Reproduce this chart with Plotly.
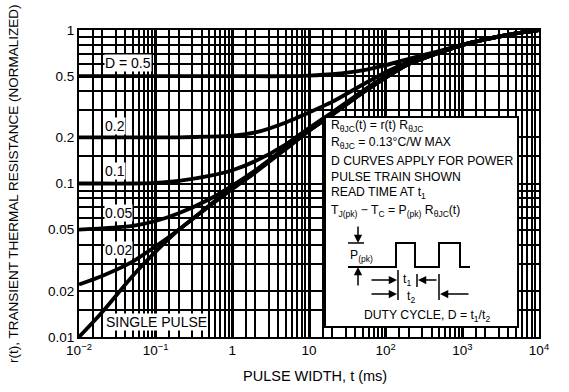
import plotly.graph_objects as go

# ---------------- data ----------------
pulse_width_ms = [0.01, 0.02, 0.05, 0.1, 0.2, 0.5, 1, 2, 5, 10, 20, 50, 100, 200, 500, 1000, 2000, 5000, 10000]

r_d05 = [0.50, 0.50, 0.50, 0.50, 0.50, 0.50, 0.50, 0.50, 0.50, 0.505, 0.515, 0.545, 0.59, 0.65, 0.73, 0.80, 0.87, 0.95, 1.0]
r_d02 = [0.20, 0.20, 0.20, 0.20, 0.20, 0.202, 0.205, 0.215, 0.25, 0.29, 0.34, 0.44, 0.53, 0.62, 0.72, 0.80, 0.87, 0.95, 1.0]
r_d01 = [0.10, 0.10, 0.10, 0.101, 0.104, 0.112, 0.122, 0.14, 0.18, 0.23, 0.29, 0.40, 0.50, 0.60, 0.715, 0.80, 0.87, 0.95, 1.0]
r_d005 = [0.050, 0.051, 0.053, 0.057, 0.064, 0.079, 0.097, 0.122, 0.172, 0.222, 0.282, 0.39, 0.49, 0.60, 0.71, 0.80, 0.87, 0.95, 1.0]
r_d002 = [0.022, 0.025, 0.031, 0.039, 0.050, 0.072, 0.094, 0.12, 0.17, 0.221, 0.28, 0.39, 0.49, 0.60, 0.71, 0.80, 0.87, 0.95, 1.0]
r_single = [0.010, 0.0145, 0.025, 0.036, 0.050, 0.071, 0.092, 0.118, 0.168, 0.22, 0.28, 0.39, 0.49, 0.60, 0.71, 0.80, 0.87, 0.95, 1.0]

series = [
    ("D = 0.5", r_d05),
    ("0.2", r_d02),
    ("0.1", r_d01),
    ("0.05", r_d005),
    ("0.02", r_d002),
    ("SINGLE PULSE", r_single),
]

x_tick_vals = [0.01, 0.1, 1, 10, 100, 1000, 10000]
x_tick_text = ["10<sup>−2</sup>", "10<sup>−1</sup>", "1", "10", "10<sup>2</sup>", "10<sup>3</sup>", "10<sup>4</sup>"]
y_tick_vals = [0.01, 0.02, 0.05, 0.1, 0.2, 0.5, 1]
y_tick_text = ["0.01", "0.02", "0.05", "0.1", "0.2", "0.5", "1"]

grid_mults = [1.5, 2, 3, 4, 5, 6, 7, 8, 9]
x_minor = [m * 10 ** d for d in range(-2, 4) for m in grid_mults]
y_minor = [m * 10 ** d for d in range(-2, 0) for m in grid_mults if (m * 10 ** d) not in y_tick_vals]

# ---------------- layout geometry ----------------
W, H = 569, 392
L, R, T, B = 79, 539, 30, 337
FONT = "Liberation Sans, Arial, Helvetica, sans-serif"


def PX(x):
    return (x - L) / (R - L)


def PY(y):
    return (B - y) / (B - T)


fig = go.Figure()
for name, vals in series:
    fig.add_trace(go.Scatter(x=pulse_width_ms, y=vals, mode="lines", name=name,
                             line=dict(color="black", width=3.8, shape="spline", smoothing=0.6),
                             showlegend=False, hoverinfo="skip"))

annotations = []
shapes = []

# curve labels
curve_labels = [
    ("D = 0.5", 104, 63),
    ("0.2", 104, 126),
    ("0.1", 104, 171),
    ("0.05", 104, 213),
    ("0.02", 104, 250),
    ("SINGLE PULSE", 105, 322),
]
for txt, x, y in curve_labels:
    annotations.append(dict(text=txt, x=PX(x), y=PY(y), xref="paper", yref="paper",
                            xanchor="left", yanchor="middle", showarrow=False,
                            bgcolor="white", borderpad=0,
                            font=dict(family=FONT, size=14, color="black")))

# inset box
shapes.append(dict(type="rect", xref="paper", yref="paper",
                   x0=PX(325), x1=PX(518), y0=PY(327), y1=PY(117),
                   fillcolor="white", line=dict(color="black", width=2), layer="above"))

box_lines = [
    ("R<sub>θJC</sub>(t) = r(t) R<sub>θJC</sub>", 126),
    ("R<sub>θJC</sub> = 0.13°C/W MAX", 143),
    ("D CURVES APPLY FOR POWER", 161),
    ("PULSE TRAIN SHOWN", 177),
    ("READ TIME AT t<sub>1</sub>", 193),
    ("T<sub>J(pk)</sub> − T<sub>C</sub> = P<sub>(pk)</sub> R<sub>θJC</sub>(t)", 211),
]
for txt, y in box_lines:
    annotations.append(dict(text=txt, x=PX(329), y=PY(y), xref="paper", yref="paper",
                            xanchor="left", yanchor="middle", showarrow=False,
                            font=dict(family=FONT, size=12.2, color="black")))

annotations.append(dict(text="DUTY CYCLE, D = t<sub>1</sub>/t<sub>2</sub>", x=PX(427), y=PY(316),
                        xref="paper", yref="paper", xanchor="center", yanchor="middle",
                        showarrow=False, font=dict(family=FONT, size=12.2, color="black")))
annotations.append(dict(text="P<sub>(pk)</sub>", x=PX(361), y=PY(256), xref="paper", yref="paper",
                        xanchor="center", yanchor="middle", showarrow=False,
                        font=dict(family=FONT, size=12.2, color="black")))
annotations.append(dict(text="t<sub>1</sub>", x=PX(407), y=PY(280), xref="paper", yref="paper",
                        xanchor="center", yanchor="middle", showarrow=False,
                        font=dict(family=FONT, size=12.2, color="black")))
annotations.append(dict(text="t<sub>2</sub>", x=PX(411), y=PY(297), xref="paper", yref="paper",
                        xanchor="center", yanchor="middle", showarrow=False,
                        font=dict(family=FONT, size=12.2, color="black")))

# pulse train
pts = [(348, 267), (396, 267), (396, 243), (415, 243), (415, 267), (439, 267), (439, 243),
       (460, 243), (460, 267), (470, 267)]
path = "M " + " L ".join(f"{PX(x):.5f},{PY(y):.5f}" for x, y in pts)
shapes.append(dict(type="path", path=path, xref="paper", yref="paper",
                   line=dict(color="black", width=2), layer="above"))
seg = [((348, 243), (364, 243)), ((398, 270), (398, 300)), ((417, 274), (417, 287)),
       ((439, 274), (439, 300))]
for (x0, y0), (x1, y1) in seg:
    shapes.append(dict(type="line", xref="paper", yref="paper", x0=PX(x0), y0=PY(y0),
                       x1=PX(x1), y1=PY(y1), line=dict(color="black", width=1.5), layer="above"))

arrows = [
    (358, 243, 0, -18),
    (358, 267, 0, 20),
    (397, 280, -27, 0),
    (418, 280, 20, 0),
    (397, 294, -27, 0),
    (440, 294, 30, 0),
]
for x, y, ax, ay in arrows:
    annotations.append(dict(text="", x=PX(x), y=PY(y), xref="paper", yref="paper",
                            ax=ax, ay=ay, showarrow=True, arrowhead=2, arrowsize=1.1,
                            arrowwidth=1.5, arrowcolor="black"))

# axis titles
annotations.append(dict(text="r(t), TRANSIENT THERMAL RESISTANCE (NORMALIZED)", x=PX(13), y=PY(184),
                        xref="paper", yref="paper", textangle=-90, showarrow=False,
                        xanchor="center", yanchor="middle",
                        font=dict(family=FONT, size=13.5, color="black")))
annotations.append(dict(text="PULSE WIDTH, t (ms)", x=PX(315), y=PY(376),
                        xref="paper", yref="paper", showarrow=False,
                        xanchor="center", yanchor="middle",
                        font=dict(family=FONT, size=14.5, color="black")))

axis_common = dict(showline=True, linecolor="black", linewidth=2, mirror=True,
                   ticks="", showgrid=True, gridcolor="black", zeroline=False,
                   tickfont=dict(family=FONT, size=13.5, color="black"))

fig.update_layout(
    width=W, height=H,
    margin=dict(l=L, r=W - R, t=T, b=H - B),
    paper_bgcolor="white", plot_bgcolor="white",
    xaxis=dict(type="log", range=[-2, 4], tickmode="array", tickvals=x_tick_vals,
               ticktext=x_tick_text, gridwidth=2.5,
               minor=dict(tickmode="array", tickvals=x_minor, showgrid=True,
                          gridcolor="black", gridwidth=1.7, ticks=""),
               **axis_common),
    yaxis=dict(type="log", range=[-2, 0], tickmode="array", tickvals=y_tick_vals,
               ticktext=y_tick_text, gridwidth=2,
               minor=dict(tickmode="array", tickvals=y_minor, showgrid=True,
                          gridcolor="black", gridwidth=1.7, ticks=""),
               **axis_common),
    annotations=annotations,
    shapes=shapes,
)

fig.write_html("out.html", config={"displayModeBar": False},
               post_script="document.body.style.margin='0';")
